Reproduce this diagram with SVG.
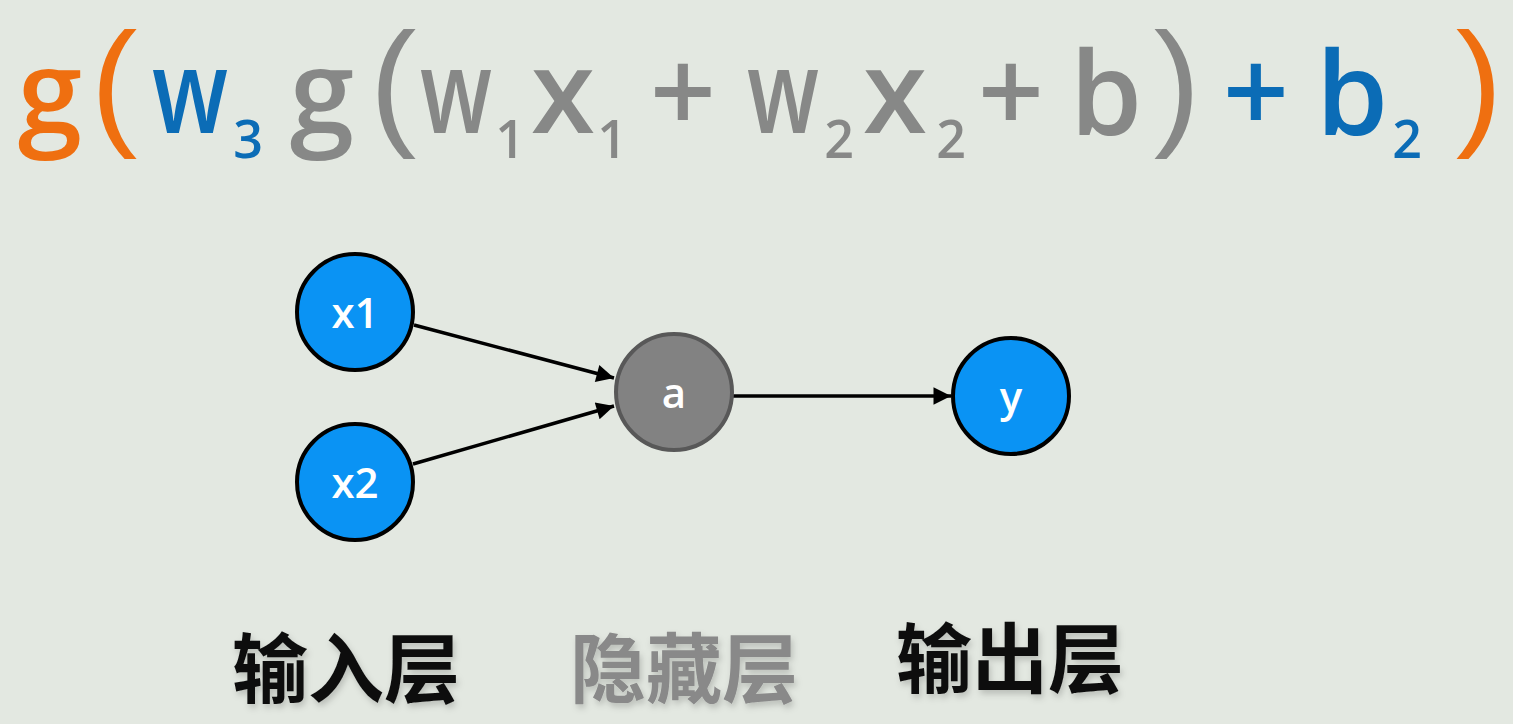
<svg xmlns="http://www.w3.org/2000/svg" width="1513" height="724" viewBox="0 0 1513 724">
  <style>
    .f { font-family: "Open Sans", "Liberation Sans", sans-serif; font-weight: 600; text-anchor: middle; }
    .big { font-size: 116px; }
    .par { font-family: "Liberation Sans", sans-serif; font-size: 140px; font-weight: 400; }
    .sub { font-size: 52px; }
    .or { fill: #ef6f10; }
    .bl { fill: #0b6cb6; }
    .gr { fill: #878887; }
    .node-blue { fill: #0a93f4; stroke: #000; stroke-width: 4; }
    .node-gray { fill: #828282; stroke: #585858; stroke-width: 4; }
    .nl { font-family: "Open Sans", "Liberation Sans", sans-serif; font-weight: 600; font-size: 42px; fill: #fff; text-anchor: middle; }
    .edge { stroke: #000; stroke-width: 3.5; fill: none; marker-end: url(#arr); }
    .cn { font-family: "Noto Sans CJK SC", sans-serif; font-weight: 700; font-size: 76px; text-anchor: middle; filter: url(#sh); }
  </style>
  <defs>
    <marker id="arr" viewBox="0 0 10 10" refX="10" refY="5" markerWidth="6" markerHeight="5" markerUnits="strokeWidth" orient="auto">
      <path d="M0,0 L10,5 L0,10 z" fill="#000"/>
    </marker>
    <filter id="sh" x="-10%" y="-10%" width="130%" height="140%">
      <feDropShadow dx="2" dy="4" stdDeviation="3" flood-color="#000" flood-opacity="0.18"/>
    </filter>
  </defs>
  <rect width="1513" height="724" fill="#e3e8e1"/>

  <g id="formula" class="f">
    <text class="big or" x="50" y="133">g</text>
    <text class="par or" x="114" y="130">(</text>
    <text class="big bl" x="190" y="133" textLength="76" lengthAdjust="spacingAndGlyphs">w</text>
    <text class="sub bl" x="248" y="158">3</text>
    <text class="big gr" x="322" y="133">g</text>
    <text class="par gr" x="393" y="130">(</text>
    <text class="big gr" x="456" y="133" textLength="72" lengthAdjust="spacingAndGlyphs">w</text>
    <text class="sub gr" x="510" y="158">1</text>
    <text class="big gr" x="563" y="133">x</text>
    <text class="sub gr" x="612" y="158">1</text>
    <text class="big gr" x="683" y="133">+</text>
    <text class="big gr" x="783" y="133" textLength="72" lengthAdjust="spacingAndGlyphs">w</text>
    <text class="sub gr" x="839" y="158">2</text>
    <text class="big gr" x="895" y="133">x</text>
    <text class="sub gr" x="951" y="158">2</text>
    <text class="big gr" x="1011" y="133">+</text>
    <text class="big gr" x="1106" y="135">b</text>
    <text class="par gr" x="1177" y="130">)</text>
    <text class="big bl" x="1256" y="133">+</text>
    <text class="big bl" x="1352" y="135">b</text>
    <text class="sub bl" x="1407" y="158">2</text>
    <text class="par or" x="1479" y="130">)</text>
  </g>

  <g id="connectors">
    <line class="edge" x1="414" y1="325" x2="614" y2="378"/>
    <line class="edge" x1="413" y1="464" x2="614" y2="406"/>
    <line class="edge" x1="733" y1="396" x2="951" y2="396"/>
  </g>

  <g id="node-x1">
    <circle class="node-blue" cx="355" cy="312" r="58"/>
    <text class="nl" x="355" y="328">x1</text>
  </g>
  <g id="node-x2">
    <circle class="node-blue" cx="355" cy="482" r="58"/>
    <text class="nl" x="355" y="498">x2</text>
  </g>
  <g id="node-a">
    <circle class="node-gray" cx="674" cy="392" r="58"/>
    <text class="nl" x="674" y="408">a</text>
  </g>
  <g id="node-y">
    <circle class="node-blue" cx="1011" cy="396" r="58"/>
    <text class="nl" x="1011" y="412">y</text>
  </g>

  <g id="labels">
    <text class="cn" x="346" y="697" fill="#111">输入层</text>
    <text class="cn" x="684" y="697" fill="#898989">隐藏层</text>
    <text class="cn" x="1010" y="687" fill="#111">输出层</text>
  </g>
</svg>
